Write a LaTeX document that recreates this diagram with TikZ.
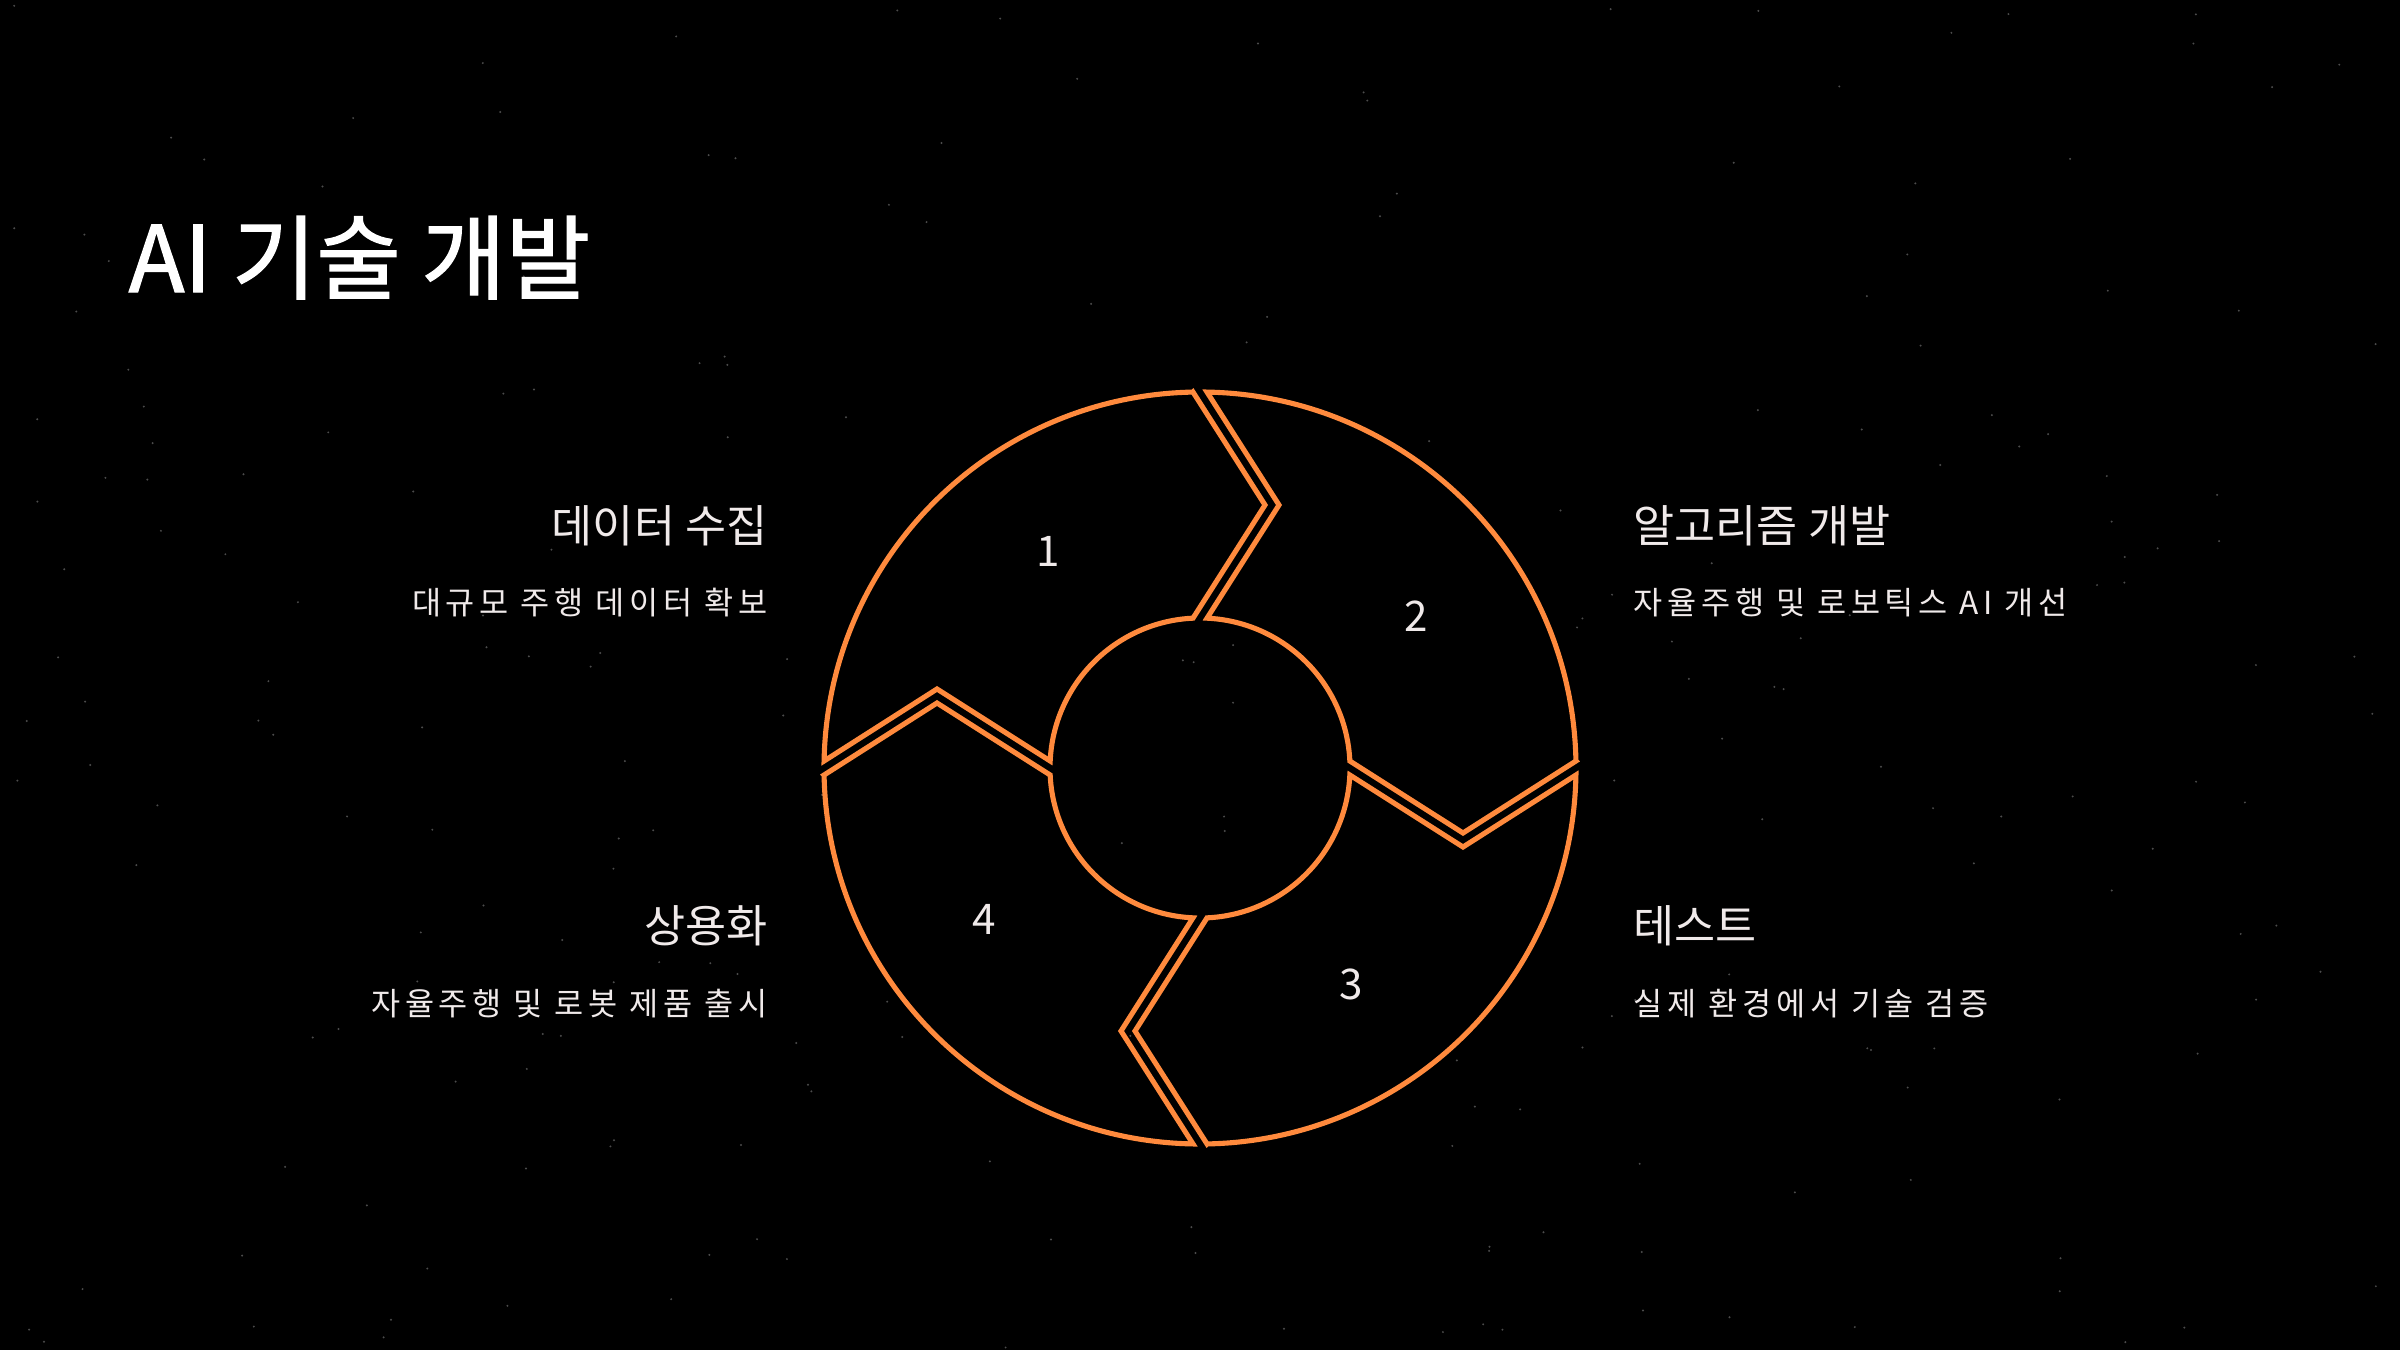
\documentclass[tikz,border=0pt]{standalone}
\usepackage{fontspec}
\setmainfont{Noto Sans CJK KR}
\newfontfamily\titlefont[FakeBold=1.4]{Noto Sans CJK KR}
\newfontfamily\subfont[LetterSpace=15]{Noto Sans CJK KR}
\usetikzlibrary{calc,positioning}

\definecolor{ringorange}{RGB}{255,138,61}
\definecolor{paper}{RGB}{240,234,234}

\begin{document}
\begin{tikzpicture}[x=0.01cm,y=0.01cm,
  ringseg/.style={draw=ringorange,line width=1.45pt,fill=black},
  stepnum/.style={text=paper,inner sep=0pt,font=\fontsize{12}{14}\selectfont},
  headlabel/.style={text=paper,inner sep=0pt,font=\fontsize{12.7}{15}\selectfont},
  sublabel/.style={text=paper,inner sep=0pt,font=\subfont\fontsize{9}{11}\selectfont}
]
\useasboundingbox (0,0) rectangle (2400,1350);
\fill[black] (0,0) rectangle (2400,1350);

% faint stars
\pgfmathsetseed{11}
\foreach \i in {1,...,260}{
  \fill[white!30!black] ({rnd*2400},{rnd*1350}) circle[radius=1.1];
}

% four arrow segments of the ring
\foreach \k/\ang in {1/125,2/35,3/-55,4/-145}{
  \begin{scope}[shift={(1200,582)},rotate={-90*(\k-1)}]
    \draw[ringseg] (-7,375.93) -- (65,263) -- (-7,149.84)
      arc[start angle=92.675,end angle=177.325,radius=150]
      -- (-263,79) -- (-375.93,7)
      arc[start angle=178.933,end angle=91.067,radius=376] -- cycle;
  \end{scope}
  \node[stepnum] (num\k) at ($(1200,582)+(\ang:264)$) {\k};
}

\node[text=white,inner sep=0pt,anchor=base west,font=\titlefont\fontsize{26.1}{31}\selectfont]
  (title) at (128,1058) {AI 기술 개발};

\node[headlabel,anchor=base east] (collect) at (768,808) {데이터 수집};
\node[sublabel,anchor=base east] (collectsub) at (768,736) {대규모 주행 데이터 확보};
\node[headlabel,anchor=base west] (algo) at (1633,808) {알고리즘 개발};
\node[sublabel,anchor=base west] (algosub) at (1633,736) {자율주행 및 로보틱스 AI 개선};
\node[headlabel,anchor=base east] (launch) at (768,408) {상용화};
\node[sublabel,anchor=base east] (launchsub) at (768,335) {자율주행 및 로봇 제품 출시};
\node[headlabel,anchor=base west] (test) at (1633,408) {테스트};
\node[sublabel,anchor=base west] (testsub) at (1633,335) {실제 환경에서 기술 검증};
\end{tikzpicture}
\end{document}
